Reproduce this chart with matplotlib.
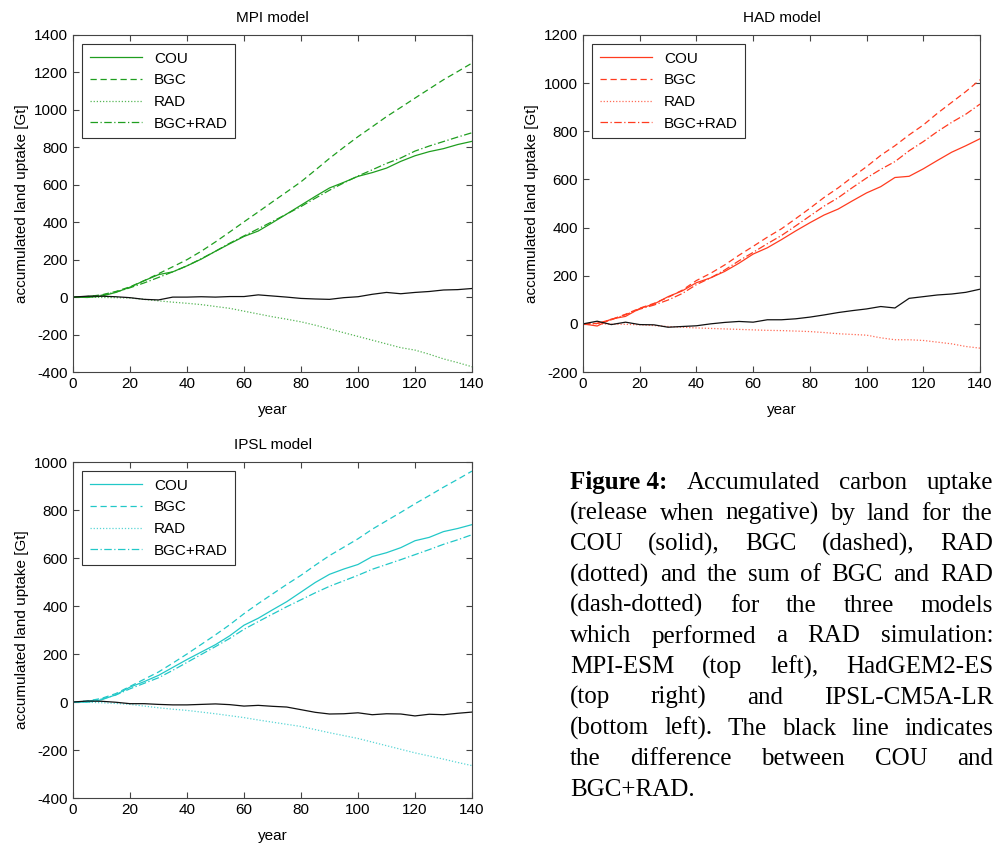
import numpy as np
import matplotlib
matplotlib.use("Agg")
import matplotlib.pyplot as plt

plt.rcParams['font.family'] = ['Liberation Sans', 'DejaVu Sans']
plt.rcParams['axes.unicode_minus'] = False

# years sampled every 5 years
years = np.arange(0, 141, 5)

# MPI model (Gt)
mpi_bgc = [0, 3, 12, 30, 55, 88, 125, 162, 200, 245, 295, 348, 402, 455, 509,
           562, 616, 678, 741, 800, 857, 910, 964, 1013, 1063, 1112, 1161, 1205, 1250]
mpi_rad = [0, 0, -2, -3, -5, -12, -20, -27, -33, -40, -50, -60, -75, -90, -105,
           -118, -132, -150, -170, -190, -210, -230, -250, -270, -283, -305, -330, -350, -372]
mpi_diff = [0, 5, 5, 2, -3, -12, -15, 0, 0, 2, 0, 3, 3, 12, 6,
            0, -7, -10, -12, -3, 2, 15, 25, 18, 25, 30, 38, 40, 46]

# HAD model
had_bgc = [0, 2, 18, 40, 65, 85, 110, 140, 180, 210, 245, 285, 322, 360, 395,
           437, 480, 525, 565, 610, 653, 700, 740, 785, 826, 875, 920, 965, 1014]
had_rad = [0, 0, -1, -2, -4, -7, -11, -14, -17, -19, -21, -23, -25, -27, -28,
           -30, -32, -36, -41, -44, -47, -58, -66, -66, -69, -76, -83, -94, -101]
had_diff = [0, 11, -3, 7, -3, -4, -14, -11, -8, 0, 6, 10, 7, 17, 17,
            21, 28, 37, 47, 55, 62, 72, 66, 106, 113, 120, 124, 131, 144]

# IPSL model
ipsl_bgc = [0, 4, 15, 35, 65, 95, 125, 162, 200, 240, 280, 322, 368, 410, 450,
            490, 528, 570, 610, 645, 680, 720, 755, 790, 826, 860, 895, 928, 962]
ipsl_rad = [0, -1, -3, -6, -10, -17, -24, -30, -35, -42, -49, -57, -65, -75, -84,
            -93, -102, -115, -128, -140, -152, -167, -182, -197, -212, -225, -238, -252, -265]
ipsl_diff = [0, 4, 3, -1, -7, -7, -10, -12, -12, -10, -8, -11, -17, -14, -18,
             -21, -32, -43, -50, -49, -45, -53, -49, -50, -58, -51, -53, -47, -42]

caption_lines = [
    ["Figure 4:", "Accumulated", "carbon", "uptake"],
    ["(release", "when", "negative)", "by", "land", "for", "the"],
    ["COU", "(solid),", "BGC", "(dashed),", "RAD"],
    ["(dotted)", "and", "the", "sum", "of", "BGC", "and", "RAD"],
    ["(dash-dotted)", "for", "the", "three", "models"],
    ["which", "performed", "a", "RAD", "simulation:"],
    ["MPI-ESM", "(top", "left),", "HadGEM2-ES"],
    ["(top", "right)", "and", "IPSL-CM5A-LR"],
    ["(bottom", "left).", "The", "black", "line", "indicates"],
    ["the", "difference", "between", "COU", "and"],
    ["BGC+RAD."],
]

W, H = 996, 850


def draw_panel(ax, title, color, bgc, rad, diff, yticks):
    bgc = np.array(bgc)
    rad = np.array(rad)
    diff = np.array(diff)
    both = bgc + rad
    cou = both - diff
    lw = 0.9
    ax.plot(years, cou, color=color, lw=lw, ls='-', label='COU')
    ax.plot(years, bgc, color=color, lw=lw, ls=(0, (5, 3)), label='BGC')
    ax.plot(years, rad, color=color, lw=lw, ls=(0, (1, 1.5)), alpha=0.75, label='RAD')
    ax.plot(years, both, color=color, lw=lw, ls=(0, (6, 2, 1, 2)), label='BGC+RAD')
    ax.plot(years, diff, color='#111111', lw=0.9)
    ax.set_xlim(0, 140)
    ax.set_ylim(yticks[0], yticks[-1])
    ax.set_xticks(np.arange(0, 141, 20))
    ax.set_yticks(yticks)
    ax.tick_params(direction='in', top=True, right=True, length=4,
                   labelsize=11, color='#444444')
    for sp in ax.spines.values():
        sp.set_color('#444444')
        sp.set_linewidth(0.8)
    ax.set_title(title, fontsize=11, pad=9.5)
    ax.set_xlabel('year', fontsize=11, labelpad=9)
    ax.set_ylabel('accumulated land uptake [Gt]', fontsize=11)
    leg = ax.legend(loc='upper left', fontsize=11, handlelength=3.4,
                    labelspacing=0.5, borderaxespad=0.6, borderpad=0.5,
                    fancybox=False, framealpha=1, edgecolor='#333333')
    leg.get_frame().set_linewidth(0.8)


def justified_line(fig, renderer, words, y, x0, x1, justify=True):
    texts = []
    for w in words:
        weight = 'bold' if w.startswith('Figure') else 'normal'
        t = fig.text(0, y / H, w, fontsize=18, family='Liberation Serif',
                     weight=weight, va='baseline', ha='left')
        texts.append(t)
    widths = [t.get_window_extent(renderer).width for t in texts]
    if justify and len(words) > 1:
        gap = (x1 - x0 - sum(widths)) / (len(words) - 1)
    else:
        gap = 5
    x = x0
    for t, w in zip(texts, widths):
        t.set_x(x / W)
        x += w + gap


def main():
    fig = plt.figure(figsize=(W / 100, H / 100), dpi=100)
    ax1 = fig.add_axes([73 / W, 1 - 372 / H, 399 / W, 337 / H])
    ax2 = fig.add_axes([583 / W, 1 - 372 / H, 397 / W, 337 / H])
    ax3 = fig.add_axes([73 / W, 1 - 798 / H, 399 / W, 336 / H])

    draw_panel(ax1, 'MPI model', '#1f9e1f', mpi_bgc, mpi_rad, mpi_diff,
               np.arange(-400, 1401, 200))
    draw_panel(ax2, 'HAD model', '#ff3b1f', had_bgc, had_rad, had_diff,
               np.arange(-200, 1201, 200))
    draw_panel(ax3, 'IPSL model', '#22c8c8', ipsl_bgc, ipsl_rad, ipsl_diff,
               np.arange(-400, 1001, 200))

    # caption, justified to the right edge of the figure
    renderer = fig.canvas.get_renderer()
    for i, words in enumerate(caption_lines):
        y_pix = H - (489 + i * 30.7)
        justified_line(fig, renderer, words, y_pix, 570, 993,
                       justify=(i < len(caption_lines) - 1))

    plt.savefig('out.png', dpi=100)


if __name__ == "__main__":
    main()
